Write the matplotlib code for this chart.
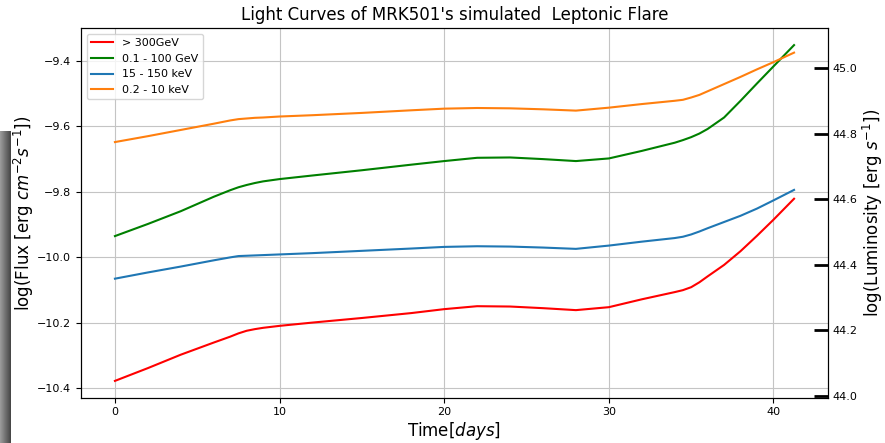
import numpy as np
import matplotlib
matplotlib.use("Agg")
import matplotlib.pyplot as plt

# time grid of the light curves (days)
days = [0, 2, 4, 6, 7, 7.5, 8, 8.5, 9, 10, 12, 15, 18, 20, 22, 24, 26, 28,
        30, 32, 34, 34.5, 35, 35.5, 36, 37, 38, 39, 40, 41.25]

# log flux per band
flux_vhe = [-10.377, -10.338, -10.297, -10.260, -10.242, -10.232, -10.224,
            -10.219, -10.215, -10.209, -10.199, -10.185, -10.170, -10.158,
            -10.149, -10.150, -10.155, -10.161, -10.152, -10.128, -10.106,
            -10.100, -10.091, -10.076, -10.058, -10.023, -9.981, -9.934,
            -9.885, -9.821]
flux_he = [-9.935, -9.898, -9.859, -9.815, -9.795, -9.786, -9.779, -9.773,
           -9.768, -9.761, -9.750, -9.734, -9.717, -9.706, -9.696, -9.695,
           -9.700, -9.706, -9.698, -9.675, -9.650, -9.642, -9.633, -9.622,
           -9.608, -9.573, -9.522, -9.469, -9.417, -9.352]
flux_hx = [-10.065, -10.046, -10.028, -10.009, -10.000, -9.996, -9.995,
           -9.994, -9.993, -9.991, -9.987, -9.980, -9.973, -9.968, -9.966,
           -9.967, -9.970, -9.974, -9.964, -9.952, -9.941, -9.937, -9.930,
           -9.921, -9.911, -9.892, -9.873, -9.851, -9.826, -9.794]
flux_sx = [-9.648, -9.630, -9.611, -9.592, -9.582, -9.578, -9.576, -9.574,
           -9.573, -9.570, -9.566, -9.559, -9.551, -9.546, -9.544, -9.545,
           -9.548, -9.552, -9.543, -9.532, -9.522, -9.519, -9.512, -9.504,
           -9.493, -9.471, -9.449, -9.426, -9.404, -9.375]

bands = ["> 300GeV", "0.1 - 100 GeV", "15 - 150 keV", "0.2 - 10 keV"]
colors = ["red", "green", "tab:blue", "tab:orange"]

# log(4 pi d^2) shift from flux to luminosity
lum_offset = 54.423

fig = plt.figure(figsize=(8.85, 4.43), dpi=100)

# dark strip along the left border, kept behind everything else
strip = fig.add_axes([0, 0, 11 / 885, 312 / 443], zorder=-5)
strip.imshow(np.linspace(0.6, 0.28, 11)[None, :], cmap="gray", vmin=0, vmax=1,
             aspect="auto", extent=[0, 1, 0, 1])
strip.axis("off")

ax = fig.add_axes([0.0915, 0.1023, 0.8441, 0.8338])

for f, lab, c in zip([flux_vhe, flux_he, flux_hx, flux_sx], bands, colors):
    ax.plot(days, f, color=c, lw=1.5, label=lab)

ax.grid(True, color="#c4c4c4", lw=0.8)
ax.tick_params(labelsize=8)
ax.set_xlabel("Time[$days$]", fontsize=12, labelpad=2)
ax.set_ylabel("log(Flux [erg $cm^{-2} s^{-1}$])", fontsize=12, labelpad=1)
ax.set_title("Light Curves of MRK501's simulated  Leptonic Flare", fontsize=12)
ax.legend(loc="upper left", fontsize=8)

ax2 = ax.twinx()
lo, hi = ax.get_ylim()
ax2.set_ylim(lo + lum_offset, hi + lum_offset)
ax2.set_yticks([44.0, 44.2, 44.4, 44.6, 44.8, 45.0])
ax2.tick_params(direction="in", length=10, width=2, labelsize=8, pad=3.5)
ax2.set_ylabel("log(Luminosity [erg $s^{-1}$])", fontsize=12, labelpad=2)

fig.savefig("out.png", dpi=100)
